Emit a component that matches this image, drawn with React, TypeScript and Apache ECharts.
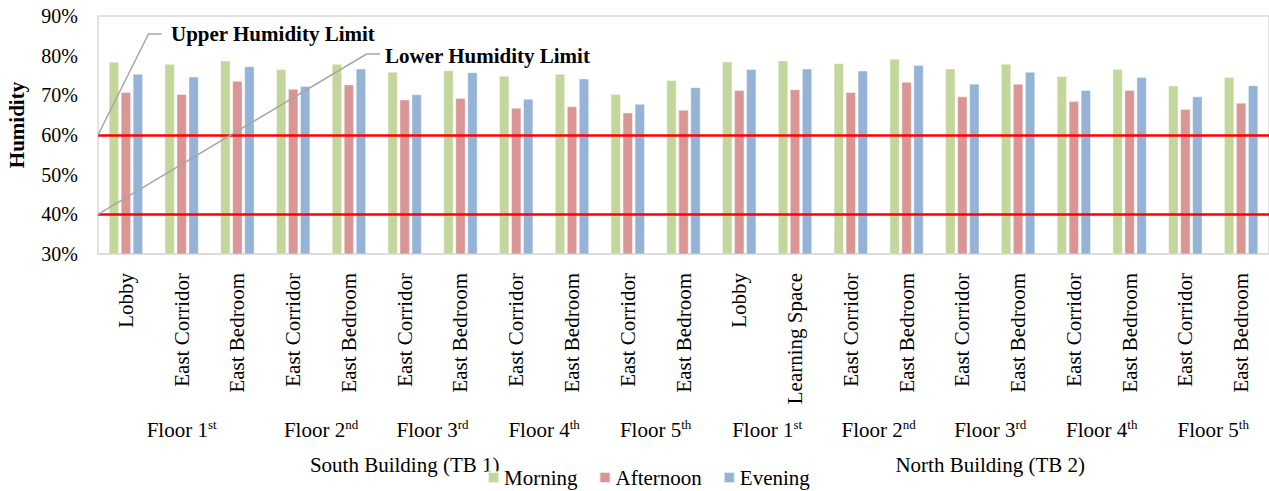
import React, { useEffect, useRef } from "react";
import * as echarts from "echarts";

// Room categories along the x axis (South building first, then North)
const categories = [
  "Lobby", "East Corridor", "East Bedroom", "East Corridor", "East Bedroom",
  "East Corridor", "East Bedroom", "East Corridor", "East Bedroom", "East Corridor",
  "East Bedroom", "Lobby", "Learning Space", "East Corridor", "East Bedroom",
  "East Corridor", "East Bedroom", "East Corridor", "East Bedroom", "East Corridor",
  "East Bedroom",
];

// Relative humidity (%) per time of day
const morning = [78.4, 77.9, 78.7, 76.6, 77.9, 75.9, 76.3, 74.9, 75.4, 70.3, 73.8, 78.5, 78.7, 78.1, 79.2, 76.7, 77.9, 74.8, 76.6, 72.4, 74.6];
const afternoon = [70.8, 70.3, 73.6, 71.6, 72.7, 68.9, 69.3, 66.8, 67.2, 65.6, 66.3, 71.3, 71.5, 70.8, 73.4, 69.7, 72.9, 68.5, 71.3, 66.5, 68.1];
const evening = [75.4, 74.7, 77.3, 72.3, 76.7, 70.2, 75.8, 69.1, 74.2, 67.8, 72.0, 76.6, 76.7, 76.2, 77.6, 72.9, 75.9, 71.3, 74.6, 69.7, 72.5];

const seriesNames = ["Morning", "Afternoon", "Evening"];
const seriesColors = ["#C3D69B", "#D99694", "#95B3D7"];

// Comfort band limits
const upperLimit = 60;
const lowerLimit = 40;
const upperLabel = "Upper Humidity Limit";
const lowerLabel = "Lower Humidity Limit";

// y axis ticks
const yMin = 30;
const yMax = 90;
const yStep = 10;

// Multi-level axis groups: floors and buildings (number of categories in each)
const floorNumbers = ["1", "2", "3", "4", "5", "1", "2", "3", "4", "5"];
const floorSuffixes = ["st", "nd", "rd", "th", "th", "st", "nd", "rd", "th", "th"];
const floorSpans = [3, 2, 2, 2, 2, 2, 2, 2, 2, 2];
const buildingLabels = ["South Building (TB 1)", "North Building (TB 2)"];
const buildingSpans = [11, 10];

const FONT = "'Liberation Serif', 'Times New Roman', serif";

export default function App() {
  const ref = useRef<HTMLDivElement>(null);

  useEffect(() => {
    if (!ref.current) return;
    const chart = echarts.init(ref.current, undefined, { renderer: "svg" });

    const data = [morning, afternoon, evening];
    const gridLeft = 98;
    const gridTop = 16;

    chart.setOption({
      animation: false,
      textStyle: { fontFamily: FONT },
      grid: {
        left: gridLeft,
        top: gridTop,
        width: 1172,
        height: 238,
        show: true,
        borderColor: "#D9D9D9",
        borderWidth: 1.5,
        containLabel: false,
      },
      legend: {
        data: seriesNames,
        left: 487,
        top: 467,
        padding: 0,
        icon: "rect",
        itemWidth: 11,
        itemHeight: 11,
        itemGap: 21,
        textStyle: { fontSize: 21, color: "#000", fontFamily: FONT },
      },
      xAxis: {
        type: "category",
        data: categories,
        axisLine: { show: true, lineStyle: { color: "#D9D9D9", width: 1.5 } },
        axisTick: { show: false },
        axisLabel: {
          interval: 0,
          rotate: 90,
          margin: 19,
          fontSize: 21,
          color: "#000",
          fontFamily: FONT,
        },
      },
      yAxis: {
        type: "value",
        min: yMin,
        max: yMax,
        interval: yStep,
        axisLine: { show: false },
        axisTick: { show: false },
        splitLine: { show: false },
        axisLabel: {
          formatter: "{value}%",
          fontSize: 20,
          margin: 20,
          color: "#000",
          fontFamily: FONT,
        },
      },
      series: seriesNames.map((name, i) => ({
        name,
        type: "bar",
        data: data[i],
        barWidth: 10,
        barGap: "20%",
        itemStyle: {
          color: seriesColors[i],
          borderColor: "rgba(255,255,255,0.7)",
          borderWidth: 0.6,
        },
        ...(i === 0
          ? {
              markLine: {
                silent: true,
                symbol: "none",
                label: { show: false },
                lineStyle: { color: "#FF0000", width: 2.6, type: "solid" },
                data: [{ yAxis: upperLimit }, { yAxis: lowerLimit }],
              },
            }
          : {}),
      })),
    });

    // Positions from the chart's own scales
    const xPix = (i: number) => chart.convertToPixel({ xAxisIndex: 0 }, i) as number;
    const yPix = (v: number) => chart.convertToPixel({ yAxisIndex: 0 }, v) as number;

    const spanCenters = (spans: number[]) => {
      const out: number[] = [];
      let start = 0;
      spans.forEach((n) => {
        out.push((xPix(start) + xPix(start + n - 1)) / 2);
        start += n;
      });
      return out;
    };

    const floorCenters = spanCenters(floorSpans);
    const buildingCenters = spanCenters(buildingSpans);

    const calloutStroke = { stroke: "#A6A6A6", lineWidth: 1.5, fill: "none" };

    const graphic: any[] = [
      {
        type: "text",
        x: 17,
        y: 125,
        rotation: Math.PI / 2,
        style: {
          text: "Humidity",
          fontSize: 21,
          fontWeight: "bold",
          fontFamily: FONT,
          fill: "#000",
          align: "center",
          verticalAlign: "middle",
        },
      },
      {
        type: "polyline",
        z: 100,
        shape: { points: [[gridLeft, yPix(upperLimit)], [148.5, 34], [161.5, 34]] },
        style: calloutStroke,
      },
      {
        type: "text",
        z: 100,
        x: 171,
        y: 34,
        style: {
          text: upperLabel,
          fontSize: 21,
          fontWeight: "bold",
          fontFamily: FONT,
          fill: "#000",
          align: "left",
          verticalAlign: "middle",
        },
      },
      {
        type: "polyline",
        z: 100,
        shape: { points: [[gridLeft, yPix(lowerLimit)], [366.5, 54], [380, 54]] },
        style: calloutStroke,
      },
      {
        type: "text",
        z: 100,
        x: 385,
        y: 56,
        style: {
          text: lowerLabel,
          fontSize: 21,
          fontWeight: "bold",
          fontFamily: FONT,
          fill: "#000",
          align: "left",
          verticalAlign: "middle",
        },
      },
      ...floorCenters.map((cx, i) => ({
        type: "text",
        x: cx,
        y: 430,
        style: {
          text: `{m|Floor ${floorNumbers[i]}}{s|${floorSuffixes[i]}}`,
          align: "center",
          verticalAlign: "middle",
          fill: "#000",
          rich: {
            m: { fontSize: 21, fontFamily: FONT, fill: "#000", lineHeight: 24, verticalAlign: "middle" },
            s: { fontSize: 13, fontFamily: FONT, fill: "#000", lineHeight: 18, verticalAlign: "top" },
          },
        },
      })),
      ...buildingCenters.map((cx, i) => ({
        type: "text",
        x: cx,
        y: 465,
        style: {
          text: buildingLabels[i],
          fontSize: 21,
          fontFamily: FONT,
          fill: "#000",
          align: "center",
          verticalAlign: "middle",
        },
      })),
    ];

    chart.setOption({ graphic });

    return () => chart.dispose();
  }, []);

  return (
    <div
      ref={ref}
      style={{ position: "fixed", left: 0, top: 0, width: 1269, height: 491, background: "#fff" }}
    />
  );
}
